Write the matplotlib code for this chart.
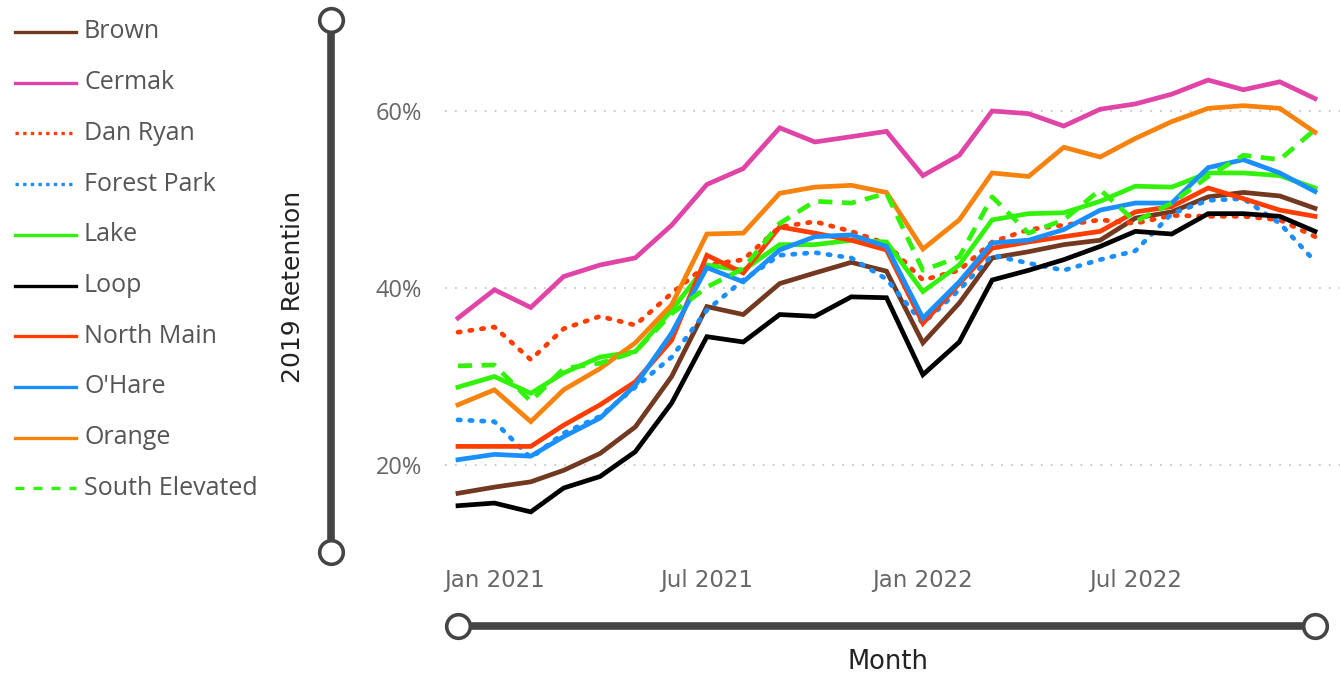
import pandas as pd
import matplotlib.pyplot as plt
import matplotlib.dates as mdates
from matplotlib.lines import Line2D

# data: share of 2019 ridership, Dec 2020 .. Dec 2022
months = pd.date_range('2020-12-01', periods=25, freq='MS')

brown = [16.8, 17.5, 18.1, 19.4, 21.3, 24.3, 30.0, 37.9, 37.0, 40.5, 41.7, 42.9, 41.9,
         33.8, 38.3, 43.4, 44.1, 44.9, 45.4, 47.9, 48.6, 50.3, 50.8, 50.4, 49.0]
cermak = [36.6, 39.8, 37.8, 41.3, 42.6, 43.4, 47.1, 51.7, 53.5, 58.1, 56.5, 57.1, 57.7,
          52.7, 55.0, 60.0, 59.7, 58.3, 60.2, 60.8, 61.9, 63.5, 62.4, 63.3, 61.4]
dan_ryan = [35.0, 35.6, 31.9, 35.4, 36.8, 35.8, 39.4, 42.6, 43.2, 46.9, 47.5, 46.4, 45.0,
            40.9, 42.0, 45.2, 46.6, 47.1, 47.7, 47.3, 48.2, 48.1, 48.1, 47.7, 45.8]
forest_park = [25.1, 24.9, 20.8, 23.6, 25.5, 28.8, 32.2, 37.5, 40.9, 43.7, 44.0, 43.4, 41.0,
               36.0, 39.8, 43.7, 42.8, 42.0, 43.2, 44.2, 48.4, 49.9, 50.1, 47.3, 43.0]
lake = [28.8, 30.0, 28.1, 30.4, 32.2, 32.8, 37.5, 42.6, 42.0, 44.9, 44.9, 45.4, 45.2,
        39.6, 42.6, 47.7, 48.4, 48.5, 49.8, 51.5, 51.4, 53.0, 53.0, 52.7, 51.3]
loop = [15.4, 15.7, 14.7, 17.4, 18.7, 21.5, 27.0, 34.5, 33.9, 37.0, 36.8, 39.0, 38.9,
        30.2, 33.9, 40.9, 42.0, 43.2, 44.7, 46.4, 46.1, 48.4, 48.4, 48.1, 46.4]
north_main = [22.1, 22.1, 22.1, 24.5, 26.8, 29.4, 34.1, 43.7, 41.7, 46.9, 46.2, 45.4, 44.3,
              36.0, 40.5, 44.5, 45.2, 45.8, 46.4, 48.6, 49.2, 51.3, 50.1, 48.8, 48.1]
ohare = [20.6, 21.2, 21.0, 23.2, 25.3, 29.0, 34.9, 42.3, 40.7, 44.3, 45.8, 46.0, 44.7,
         36.6, 40.7, 45.1, 45.4, 46.6, 48.8, 49.6, 49.6, 53.6, 54.5, 53.0, 50.9]
orange = [26.8, 28.5, 24.9, 28.5, 30.9, 33.8, 38.1, 46.1, 46.2, 50.7, 51.4, 51.6, 50.8,
          44.4, 47.7, 53.0, 52.6, 55.9, 54.8, 56.9, 58.8, 60.3, 60.6, 60.3, 57.6]
south_elevated = [31.2, 31.3, 27.2, 30.9, 31.5, 32.8, 37.1, 40.1, 42.2, 47.3, 49.8, 49.6, 50.7,
                  42.0, 43.5, 50.3, 46.2, 47.7, 51.1, 47.5, 49.6, 52.6, 55.0, 54.5, 57.9]

names = ['Brown', 'Cermak', 'Dan Ryan', 'Forest Park', 'Lake', 'Loop',
         'North Main', "O'Hare", 'Orange', 'South Elevated']
series = [brown, cermak, dan_ryan, forest_park, lake, loop,
          north_main, ohare, orange, south_elevated]
colors = ['#723820', '#E044A7', '#FF3D00', '#1A8FFF', '#33F20A', '#000000',
          '#FF3D00', '#1A8FFF', '#F7820C', '#33F20A']
styles = ['-', '-', 'dot', 'dot', '-', '-', '-', '-', '-', 'dash']

W, H = 1340, 677
fig = plt.figure(figsize=(W / 100, H / 100), dpi=100)
ax = fig.add_axes([458 / W, 1 - 553.5 / H, (1315 - 458) / W, (553.5 - 22.5) / H])
ax.set_xlim(months[0], months[-1])
ax.set_ylim(10, 70)

# gridlines
for g in [20, 40, 60]:
    ax.axhline(g, xmin=-0.015, xmax=1.03, color='#c8c8c8', lw=1.3,
               ls=(0, (1, 4.5)), clip_on=False, zorder=0)

for name, vals, c, st in zip(names, series, colors, styles):
    if st == 'dot':
        ax.plot(months, vals, color=c, lw=3.4, ls=(0, (0.5, 2.0)),
                dash_capstyle='round', clip_on=False)
    elif st == 'dash':
        ax.plot(months, vals, color=c, lw=3.4, ls=(0, (3.0, 2.0)), clip_on=False)
    else:
        ax.plot(months, vals, color=c, lw=3.4, solid_joinstyle='miter', clip_on=False)

for s in ax.spines.values():
    s.set_visible(False)
ax.tick_params(length=0)
ax.set_yticks([20, 40, 60])
ax.set_yticklabels(['20%', '40%', '60%'], fontsize=17, color='#666666',
                   family=['Open Sans', 'DejaVu Sans'])
ax.tick_params(axis='y', pad=26)
ax.set_xticks(pd.to_datetime(['2021-01-01', '2021-07-01', '2022-01-01', '2022-07-01']))
ax.xaxis.set_major_formatter(mdates.DateFormatter('%b %Y'))
for lab in ax.get_xticklabels():
    lab.set_fontsize(16.5)
    lab.set_color('#666666')
    lab.set_family(['Liberation Sans Narrow', 'DejaVu Sans'])
ax.tick_params(axis='x', pad=11)

# axis titles
fig.text(293 / W, 1 - 287 / H, '2019 Retention', rotation=90, ha='center', va='center',
         fontsize=18, color='#222222', family=['Liberation Sans Narrow', 'DejaVu Sans'])
fig.text(888 / W, 1 - 662 / H, 'Month', ha='center', va='center',
         fontsize=18.5, color='#222222', family=['Liberation Sans Narrow', 'DejaVu Sans'])

# slider decorations
slider = '#444444'
fig.add_artist(Line2D([331 / W, 331 / W], [1 - 20 / H, 1 - 552 / H], color=slider, lw=5.5))
fig.add_artist(Line2D([458 / W, 1315 / W], [1 - 626 / H, 1 - 626 / H], color=slider, lw=5.5))
for cx, cy in [(331, 20), (331, 552), (458, 626), (1315, 626)]:
    fig.add_artist(Line2D([cx / W], [1 - cy / H], marker='o', ms=17, mfc='white',
                          mec=slider, mew=2.6, zorder=5))

# legend
for i, (name, c, st) in enumerate(zip(names, colors, styles)):
    y = 32 + i * 50.7
    ls = '-'
    if st == 'dot':
        ls = (0, (1, 1.3))
    elif st == 'dash':
        ls = (0, (2.7, 2.7))
    fig.add_artist(Line2D([15 / W, 76 / W], [1 - y / H, 1 - y / H], color=c, lw=2.4, ls=ls))
    fig.text(84 / W, 1 - y / H, name, ha='left', va='center', fontsize=18,
             color='#555555', family=['Open Sans', 'DejaVu Sans'])

fig.savefig('out.png', dpi=100)
